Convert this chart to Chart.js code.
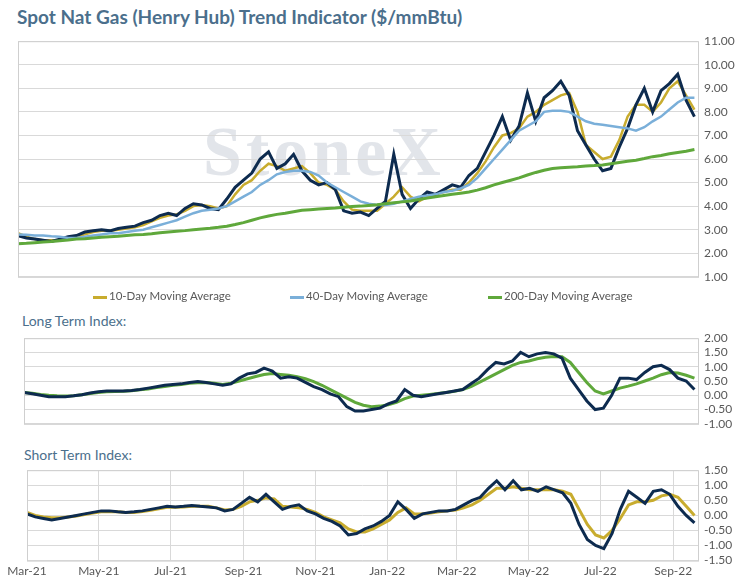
<!DOCTYPE html>
<html>
<head>
<meta charset="utf-8">
<script src="https://cdn.jsdelivr.net/npm/chart.js@4"></script>
<style>
  body { margin: 0; width: 747px; height: 581px; background: #fff; font-family: Lato, 'Open Sans', sans-serif; position: relative; overflow: hidden; }
  .title { position: absolute; left: 17px; top: 5px; font-size: 19px; font-weight: bold; color: #4b6f8c; }
  .sub { position: absolute; font-size: 14px; color: #4b6f8c; }
  .wrap { position: absolute; left: 0; width: 747px; }
  .legend { position: absolute; top: 289px; left: 0; width: 747px; font-size: 11.5px; color: #595959; }
  .legend span { position: absolute; white-space: nowrap; }
  .legend i { display: inline-block; width: 14px; height: 3px; vertical-align: middle; margin-right: 2px; }
  .wm { position: absolute; left: 203px; top: 112px; font-family: 'Liberation Serif', serif; font-size: 70px; font-weight: bold; color: rgba(160,170,185,0.3); letter-spacing: 4px; }
</style>
</head>
<body>
<div class="title">Spot Nat Gas (Henry Hub) Trend Indicator ($/mmBtu)</div>
<div class="wm">StoneX</div>
<div class="wrap" style="top:28px;height:262px"><canvas id="priceChart"></canvas></div>
<div class="legend">
  <span style="left:93px"><i style="background:#c8ac2e"></i>10-Day Moving Average</span>
  <span style="left:290px"><i style="background:#7aafd9"></i>40-Day Moving Average</span>
  <span style="left:488px"><i style="background:#5fa83b"></i>200-Day Moving Average</span>
</div>
<div class="sub" style="left:22px;top:312px">Long Term Index:</div>
<div class="wrap" style="top:325px;height:112px"><canvas id="longChart"></canvas></div>
<div class="sub" style="left:24px;top:446px">Short Term Index:</div>
<div class="wrap" style="top:457px;height:124px"><canvas id="shortChart"></canvas></div>
<script>
// weekly readings, Mar-21 .. Sep-22
const spot = [2.75,2.65,2.6,2.55,2.5, 2.6,2.7,2.75,2.9, 2.95,3.0,2.95,3.05, 3.1,3.15,3.3,3.4,
  3.6,3.7,3.6,3.9,4.1, 4.05,3.9,3.85,4.3, 4.8,5.1,5.4,6.0, 6.3,5.6,5.8,6.2,5.5, 5.1,4.9,5.0,4.7,
  3.8,3.7,3.75,3.6,3.9, 4.2,6.2,4.5,3.9, 4.3,4.6,4.5,4.7,4.9, 4.8,5.3,5.6,6.3, 7.0,7.8,6.8,7.4,
  8.8,7.6,8.6,8.9, 9.3,8.7,7.2,6.6,6.0, 5.5,5.6,6.5,7.3, 8.3,9.0,8.0,8.9, 9.2,9.6,8.5,7.8];
const ma10 = [2.85,2.7,2.6,2.55,2.55, 2.55,2.6,2.7,2.8, 2.9,2.95,2.95,3.0, 3.05,3.1,3.2,3.35,
  3.5,3.6,3.65,3.8,4.0, 4.05,4.0,3.9,4.0, 4.5,4.9,5.1,5.5, 5.8,5.7,5.5,5.6,5.7, 5.4,5.0,4.9,4.7,
  4.2,3.85,3.8,3.8,3.8, 4.1,4.4,4.8,4.4, 4.2,4.4,4.5,4.6,4.7, 4.7,5.0,5.4,5.9, 6.5,7.0,7.1,7.3,
  7.8,8.0,8.3,8.5, 8.7,8.8,8.0,6.6,6.3, 6.0,6.1,6.8,7.8, 8.3,8.3,8.0,8.4, 9.0,9.3,8.7,8.1];
const ma40 = [2.8,2.78,2.75,2.75,2.72, 2.7,2.65,2.65,2.7, 2.75,2.8,2.85,2.85, 2.9,2.95,3.0,3.1,
  3.2,3.3,3.4,3.55,3.7, 3.8,3.85,3.9,4.0, 4.2,4.4,4.6,4.9, 5.1,5.35,5.45,5.5,5.5, 5.45,5.3,5.0,4.8,
  4.6,4.4,4.2,4.1,4.05, 4.05,4.1,4.2,4.3, 4.4,4.45,4.5,4.6,4.65, 4.75,4.9,5.2,5.6, 6.0,6.4,6.8,7.2,
  7.4,7.6,8.0,8.05, 8.05,8.0,7.8,7.6,7.5, 7.45,7.4,7.35,7.3, 7.2,7.35,7.6,7.8, 8.1,8.4,8.6,8.6];
const ma200 = [2.4,2.42,2.45,2.48,2.5, 2.53,2.56,2.6,2.62, 2.65,2.68,2.7,2.72, 2.75,2.78,2.8,2.83,
  2.87,2.9,2.93,2.96,3.0, 3.03,3.06,3.1,3.15, 3.22,3.3,3.4,3.5, 3.58,3.65,3.7,3.76,3.82, 3.85,3.88,3.9,3.92,
  3.95,3.98,4.0,4.03,4.06, 4.1,4.14,4.18,4.22, 4.28,4.34,4.4,4.45,4.5, 4.55,4.6,4.68,4.78, 4.9,5.0,5.1,5.2,
  5.32,5.43,5.52,5.6, 5.63,5.65,5.67,5.7,5.72, 5.75,5.8,5.85,5.9, 5.95,6.02,6.1,6.15, 6.22,6.28,6.33,6.4];
const longIdx = [0.1,0.05,0.0,-0.05,-0.05, -0.05,-0.02,0.02,0.08, 0.12,0.15,0.15,0.15, 0.17,0.2,0.25,0.3,
  0.35,0.38,0.4,0.45,0.48, 0.45,0.4,0.35,0.4, 0.6,0.75,0.8,0.95, 0.85,0.6,0.65,0.6,0.45, 0.3,0.2,0.05,-0.05,
  -0.4,-0.55,-0.55,-0.5,-0.45, -0.3,-0.2,0.2,0.0, -0.05,0.0,0.05,0.1,0.15, 0.2,0.4,0.6,0.9, 1.15,1.1,1.2,1.5,
  1.35,1.45,1.5,1.45, 1.3,0.6,0.2,-0.2,-0.5, -0.45,0.0,0.6,0.6, 0.55,0.8,1.0,1.05, 0.9,0.6,0.5,0.2];
const longAvg = [0.1,0.07,0.03,0.0,-0.02, -0.03,-0.02,0.02,0.06, 0.1,0.12,0.13,0.14, 0.16,0.19,0.22,0.27,
  0.31,0.35,0.38,0.42,0.44, 0.45,0.42,0.38,0.42, 0.5,0.58,0.66,0.73, 0.76,0.73,0.7,0.65,0.58, 0.48,0.35,0.2,0.05,
  -0.1,-0.25,-0.35,-0.4,-0.38, -0.33,-0.25,-0.12,-0.03, 0.0,0.03,0.06,0.1,0.14, 0.2,0.3,0.45,0.6, 0.75,0.9,1.05,1.15,
  1.2,1.28,1.33,1.36, 1.35,1.15,0.8,0.45,0.15, 0.05,0.15,0.25,0.32, 0.4,0.5,0.6,0.72, 0.8,0.78,0.7,0.6];
const shortIdx = [0.05,-0.05,-0.1,-0.15,-0.1, -0.05,0.0,0.05,0.1, 0.15,0.15,0.12,0.1, 0.12,0.15,0.2,0.25,
  0.3,0.28,0.3,0.33,0.3, 0.28,0.25,0.15,0.2, 0.4,0.6,0.45,0.7, 0.45,0.2,0.3,0.35,0.15, 0.05,-0.1,-0.2,-0.35,
  -0.65,-0.6,-0.45,-0.35,-0.2, 0.0,0.45,0.2,-0.1, 0.05,0.1,0.15,0.15,0.2, 0.35,0.5,0.6,0.9, 1.15,0.85,1.15,0.85,
  0.9,0.8,0.95,0.85, 0.75,0.4,-0.3,-0.8,-1.0, -1.1,-0.6,0.2,0.8, 0.6,0.4,0.8,0.85, 0.7,0.3,0.0,-0.25];
const shortAvg = [0.1,0.0,-0.05,-0.08,-0.08, -0.05,-0.02,0.03,0.08, 0.12,0.13,0.12,0.1, 0.1,0.13,0.17,0.22,
  0.27,0.27,0.28,0.3,0.3, 0.3,0.25,0.18,0.2, 0.3,0.45,0.5,0.58, 0.55,0.3,0.28,0.25,0.2, 0.1,-0.05,-0.15,-0.25,
  -0.45,-0.55,-0.55,-0.45,-0.3, -0.15,0.1,0.25,0.05, 0.05,0.08,0.12,0.15,0.18, 0.25,0.35,0.5,0.7, 0.9,0.9,0.95,0.9,
  0.85,0.85,0.85,0.85, 0.8,0.7,0.2,-0.3,-0.65, -0.75,-0.5,-0.1,0.35, 0.45,0.45,0.5,0.65, 0.7,0.6,0.3,0.0];
// month ticks (days since 1 Mar 2021)
const monthDays = [0, 61, 122, 184, 245, 306, 365, 426, 487, 549];
const monthLabels = ['Mar-21','May-21','Jul-21','Sep-21','Nov-21','Jan-22','Mar-22','May-22','Jul-22','Sep-22'];
const days = spot.map((_, i) => i * 7);

const NAVY = '#0d2b4f', GOLD = '#c8ac2e', BLUE = '#7aafd9', GREEN = '#5fa83b';
const GRID = '#d9d9d9', TXT = '#595959';

const pts = (arr) => arr.map((v, i) => ({ x: days[i], y: v }));
const ds = (arr, color, w) => ({ data: pts(arr), borderColor: color, borderWidth: w, pointRadius: 0, tension: 0, fill: false });

const boxPlugin = {
    id: 'box',
    afterDraw(chart) {
        const a = chart.chartArea, c = chart.ctx;
        c.save();
        c.strokeStyle = '#cfcfcf';
        c.lineWidth = 1;
        c.strokeRect(a.left + 0.5, a.top + 0.5, a.right - a.left, a.bottom - a.top);
        c.restore();
    },
};

function makeChart(id, datasets, yMin, yMax, step, leftPad, showX) {
    return new Chart(document.getElementById(id), {
        type: 'line',
        data: { datasets },
        plugins: [boxPlugin],
        options: {
            responsive: true,
            maintainAspectRatio: false,
            animation: false,
            layout: { padding: { left: leftPad, top: 5, right: 0, bottom: showX ? 0 : 5 } },
            plugins: { legend: { display: false }, tooltip: { enabled: false } },
            scales: {
                x: {
                    type: 'linear', min: 0, max: 570,
                    display: showX,
                    afterBuildTicks: (ax) => { ax.ticks = monthDays.map((v) => ({ value: v })); },
                    ticks: {
                        color: TXT, font: { size: 12, family: 'Lato' }, maxRotation: 0, autoSkip: false,
                        callback: (v) => monthLabels[monthDays.indexOf(v)],
                    },
                    grid: { color: GRID, drawTicks: false },
                    border: { display: false },
                },
                y: {
                    position: 'right', min: yMin, max: yMax,
                    afterFit: (ax) => { ax.width = 49; },
                    ticks: { stepSize: step, autoSkip: false, color: TXT, font: { size: 12, family: 'Lato' }, padding: 6, callback: (v) => v.toFixed(2) },
                    grid: { color: GRID, drawTicks: false },
                    border: { display: false },
                },
            },
        },
    });
}

makeChart('priceChart', [
    ds(ma200, GREEN, 3), ds(ma40, BLUE, 2.5), ds(spot, NAVY, 3), ds(ma10, GOLD, 2.5),
], 1, 11, 1, 18, false);
makeChart('longChart', [ds(longIdx, NAVY, 3), ds(longAvg, GREEN, 3)], -1, 2, 0.5, 24, false);
makeChart('shortChart', [ds(shortIdx, NAVY, 3), ds(shortAvg, GOLD, 3)], -1.5, 1.5, 0.5, 27, true);
</script>
</body>
</html>
